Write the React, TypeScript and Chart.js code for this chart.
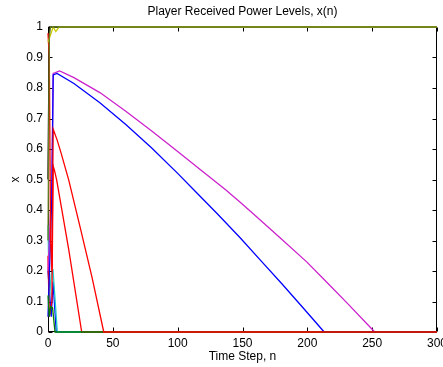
import { useEffect, useRef } from "react";
import { Chart, registerables } from "chart.js";

Chart.register(...registerables);

const titleText = "Player Received Power Levels, x(n)";
const xLabel = "Time Step, n";
const yLabel = "x";
const xTicks = [0, 50, 100, 150, 200, 250, 300];
const yTicks = [0, 0.1, 0.2, 0.3, 0.4, 0.5, 0.6, 0.7, 0.8, 0.9, 1];

// player 1 (blue, small)
const p1N = [0, 2.5, 3.9, 6.4, 300];
const p1X = [0.2, 0.05, 0.165, 0, 0];
// player 2 (green, small)
const p2N = [0, 1, 2, 3.5, 5.4, 300];
const p2X = [0.12, 0.05, 0.083, 0.08, 0, 0];
// player 3 (red, ends at 26)
const p3N = [0, 1, 3, 4, 5, 6.7, 16, 26, 300];
const p3X = [0.25, 0.05, 0.1, 0.544, 0.53, 0.498, 0.27, 0, 0];
// player 4 (cyan)
const p4N = [0, 1, 2.5, 3.9, 7.2, 300];
const p4X = [0.35, 0.1, 0.19, 0.201, 0, 0];
// player 5 (magenta)
const p5N = [0, 3, 4, 9, 20, 40, 60, 80, 100, 120, 136.5, 148, 160, 180, 199.5, 215, 230, 252, 300];
const p5X = [0.2, 0.5, 0.848, 0.856, 0.834, 0.785, 0.724, 0.659, 0.592, 0.524, 0.468, 0.426, 0.381, 0.305, 0.23, 0.163, 0.098, 0, 0];
// player 6 (yellow)
const p6N = [0, 4, 6, 8.5, 300];
const p6X = [0.95, 1, 0.985, 1, 1];
// player 7 (black)
const p7N = [0, 1, 300];
const p7X = [0.5, 1, 1];
// player 8 (blue, large)
const p8N = [0, 3, 4, 7, 20, 40, 60, 80, 100, 112, 130, 148, 165, 180, 197, 213, 300];
const p8X = [0.05, 0.45, 0.843, 0.848, 0.815, 0.752, 0.68, 0.603, 0.52, 0.468, 0.39, 0.31, 0.23, 0.16, 0.078, 0, 0];
// player 9 (green, at 1)
const p9N = [0, 1, 2, 300];
const p9X = [0.3, 0.97, 1, 1];
// player 10 (red, ends at 43)
const p10N = [0, 1, 2, 3, 4, 7, 10, 16, 25, 34, 43, 300];
const p10X = [0.98, 0.9, 0.3, 0.2, 0.665, 0.63, 0.588, 0.498, 0.34, 0.178, 0, 0];

const pts = (n: number[], v: number[]) => n.map((t, i) => ({ x: t, y: v[i] }));

const FONT = "'Liberation Sans', Arial, Helvetica, sans-serif";

const boxPlugin = {
  id: "boxTicks",
  beforeDatasetsDraw(chart: any) {
    const { ctx, chartArea: a, scales } = chart;
    ctx.save();
    ctx.strokeStyle = "#000";
    ctx.lineWidth = 1;
    const L = Math.round(a.left) + 0.5;
    const R = Math.round(a.right) - 0.5;
    const T = Math.round(a.top) + 0.5;
    const B = Math.round(a.bottom) - 0.5;
    ctx.strokeRect(L, T, R - L, B - T);
    ctx.beginPath();
    for (const v of xTicks) {
      const px = Math.round(scales.x.getPixelForValue(v)) + 0.5;
      ctx.moveTo(px, B);
      ctx.lineTo(px, B - 4);
      ctx.moveTo(px, T);
      ctx.lineTo(px, T + 4);
    }
    for (const v of yTicks) {
      const py = Math.round(scales.y.getPixelForValue(v)) + 0.5;
      ctx.moveTo(L, py);
      ctx.lineTo(L + 4, py);
      ctx.moveTo(R, py);
      ctx.lineTo(R - 4, py);
    }
    ctx.stroke();
    ctx.restore();
  },
};

export default function App() {
  const ref = useRef<HTMLCanvasElement | null>(null);
  useEffect(() => {
    document.body.style.margin = "0";
    if (!ref.current) return;
    const mk = (label: string, n: number[], v: number[], color: string, layer: number) => ({
      label,
      data: pts(n, v),
      borderColor: color,
      backgroundColor: color,
      borderWidth: 1.3,
      pointRadius: 0,
      tension: 0,
      fill: false,
      clip: false as any,
      order: 100 - layer,
    });
    const chart = new Chart(ref.current, {
      type: "line",
      data: {
        datasets: [
          mk("p7", p7N, p7X, "#000000", 0),
          mk("p1", p1N, p1X, "#0000ff", 1),
          mk("p4", p4N, p4X, "#22cccc", 2),
          mk("p3", p3N, p3X, "#ff0000", 3),
          mk("p5", p5N, p5X, "#cc22cc", 4),
          mk("p8", p8N, p8X, "#0000ff", 5),
          mk("p2", p2N, p2X, "#008000", 6),
          mk("p10", p10N, p10X, "#ff0000", 7),
          mk("p6", p6N, p6X, "#cccc00", 8),
          mk("p9", p9N, p9X, "#667f22", 9),
        ] as any,
      },
      options: {
        animation: false,
        responsive: false,
        events: [],
        layout: { padding: { left: 0, top: 0, bottom: 0, right: 6 } },
        plugins: {
          legend: { display: false },
          tooltip: { enabled: false },
          title: {
            display: true,
            text: titleText,
            color: "#000",
            fullSize: false,
            font: { family: FONT, size: 12, weight: "normal" },
            padding: { top: 4.8, bottom: 7.8 },
          },
        },
        scales: {
          x: {
            type: "linear",
            min: 0,
            max: 300,
            grid: { display: false, drawTicks: false },
            border: { display: false },
            afterBuildTicks: (s: any) => {
              s.ticks = xTicks.map((v) => ({ value: v }));
            },
            ticks: {
              color: "#000",
              padding: 4,
              maxRotation: 0,
              autoSkip: false,
              font: { family: FONT, size: 12 },
              callback: (v: any) => String(v),
            },
            title: {
              display: true,
              text: xLabel,
              color: "#000",
              font: { family: FONT, size: 12 },
              padding: { top: 0, bottom: 3 },
            },
            afterFit: (s: any) => {
              s.height = 35;
              s.paddingLeft = 0;
              s.paddingRight = 0;
            },
          },
          y: {
            type: "linear",
            min: 0,
            max: 1,
            grid: { display: false, drawTicks: false },
            border: { display: false },
            afterBuildTicks: (s: any) => {
              s.ticks = yTicks.map((v) => ({ value: v }));
            },
            ticks: {
              color: "#000",
              padding: 5,
              autoSkip: false,
              font: { family: FONT, size: 12 },
              callback: (v: any) => String(Math.round(v * 10) / 10),
            },
            title: {
              display: true,
              text: yLabel,
              color: "#000",
              font: { family: FONT, size: 12 },
              padding: { top: 8, bottom: 0 },
            },
            afterFit: (s: any) => {
              s.width = 48;
              s.paddingTop = 0;
              s.paddingBottom = 0;
            },
          },
        },
      },
      plugins: [boxPlugin],
    });
    return () => chart.destroy();
  }, []);
  return (
    <canvas
      ref={ref}
      width={443}
      height={367}
      style={{ display: "block", width: 443, height: 367 }}
    />
  );
}
